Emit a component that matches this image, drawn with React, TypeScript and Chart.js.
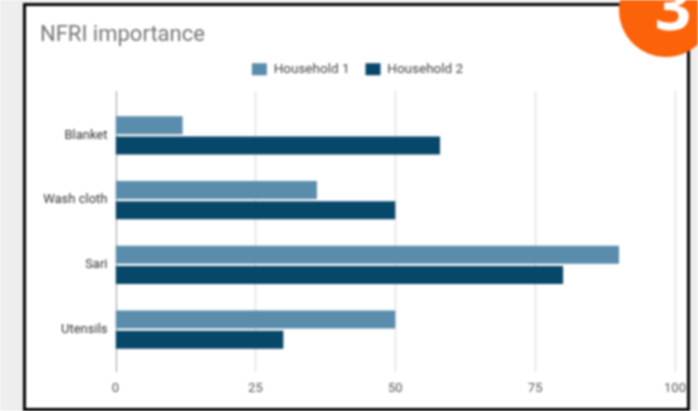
import React, { useEffect, useRef } from "react";
import { Chart, registerables } from "chart.js";

Chart.register(...registerables);

const categories = ["Blanket", "Wash cloth", "Sari", "Utensils"];
const household1 = [12, 36, 90, 50];
const household2 = [58, 50, 80, 30];
const xTicks = [0, 25, 50, 75, 100];

const legendSpacer = {
  id: "legendSpacer",
  beforeInit(chart: any) {
    const fit = chart.legend.fit;
    chart.legend.fit = function () {
      fit.call(this);
      this.height += 17;
    };
  },
};

const extendedGrid = {
  id: "extendedGrid",
  beforeDatasetsDraw(chart: any) {
    const { ctx, scales } = chart;
    const top = chart.chartArea.top - 12;
    const bottom = chart.chartArea.bottom + 10;
    ctx.save();
    for (const t of xTicks) {
      const x = Math.round(scales.x.getPixelForValue(t)) + 0.5;
      ctx.strokeStyle = t === 0 ? "#9a9a9a" : "#e2e2e2";
      ctx.lineWidth = t === 0 ? 1 : 1.5;
      ctx.beginPath();
      ctx.moveTo(x, top);
      ctx.lineTo(x, bottom);
      ctx.stroke();
    }
    ctx.restore();
  },
};

export default function App() {
  const ref = useRef<HTMLCanvasElement>(null);
  useEffect(() => {
    document.body.style.margin = "0";
    const chart = new Chart(ref.current!, {
      type: "bar",
      data: {
        labels: categories,
        datasets: [
          { label: "Household 1", data: household1, backgroundColor: "#5a8dac", categoryPercentage: 0.62, barPercentage: 0.9 },
          { label: "Household 2", data: household2, backgroundColor: "#07476a", categoryPercentage: 0.62, barPercentage: 0.9 },
        ],
      },
      options: {
        indexAxis: "y",
        animation: false,
        responsive: false,
        layout: { padding: { left: 40, right: 23, top: 24.5, bottom: 10 } },
        plugins: {
          tooltip: { enabled: false },
          title: {
            display: true,
            text: "NFRI importance",
            align: "start",
            color: "#757575",
            font: { family: "Roboto", size: 22, weight: "normal", lineHeight: 1 },
            padding: { top: 0, bottom: 0 },
          },
          legend: {
            position: "top",
            align: "center",
            labels: {
              color: "#444444",
              font: { family: "Roboto", size: 13.5 },
              boxWidth: 15,
              boxHeight: 12,
              padding: 16,
            },
          },
        },
        scales: {
          x: {
            min: 0,
            max: 100,
            afterBuildTicks(scale: any) {
              scale.ticks = xTicks.map((value) => ({ value }));
            },
            afterFit(scale: any) {
              scale.height = 39;
              scale.paddingRight = 0;
              scale.paddingLeft = 0;
            },
            grid: { display: false, drawTicks: false },
            border: { display: false },
            ticks: { color: "#555555", font: { family: "Roboto", size: 13 }, padding: 19, maxRotation: 0 },
          },
          y: {
            afterFit(scale: any) {
              scale.width = 75.5;
            },
            grid: { display: false, drawTicks: false },
            border: { display: false },
            ticks: { color: "#333333", font: { family: "Roboto", size: 13 }, padding: 8 },
          },
        },
      },
      plugins: [legendSpacer, extendedGrid],
    } as any);
    return () => chart.destroy();
  }, []);

  return (
    <div style={{ position: "relative", width: 698, height: 411, overflow: "hidden", background: "#eeeeee", filter: "blur(1.1px)" }}>
      <div style={{ position: "absolute", left: 23, top: 3, width: 661, height: 402, border: "3px solid #000", background: "#fff" }} />
      <canvas ref={ref} width={698} height={411} style={{ position: "absolute", left: 0, top: 0 }} />
      <div
        style={{
          position: "absolute",
          left: 619,
          top: -37,
          width: 94,
          height: 94,
          borderRadius: "50%",
          background: "#fb6209",
          color: "#fff",
          fontFamily: "'Open Sans'",
          fontWeight: 700,
          fontSize: 64,
          lineHeight: "86px",
          textAlign: "center",
          textIndent: 14,
        }}
      >
        3
      </div>
    </div>
  );
}
